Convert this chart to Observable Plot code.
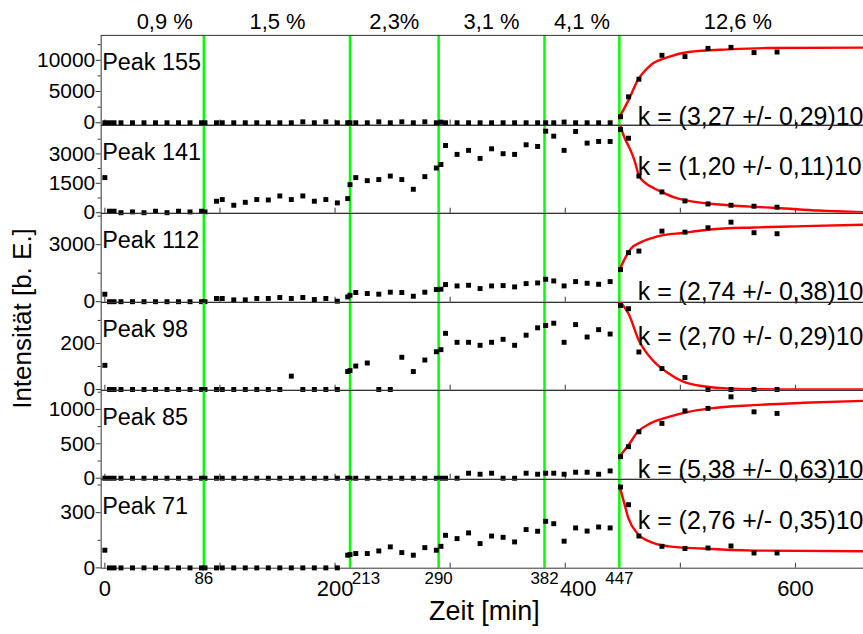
<!DOCTYPE html>
<html><head><meta charset="utf-8">
<script src="https://cdn.jsdelivr.net/npm/d3@7"></script>
<script src="https://cdn.jsdelivr.net/npm/@observablehq/plot@0.6"></script>
<style>
html,body{margin:0;padding:0;background:#fff;overflow:hidden;}
#chart{position:relative;width:863px;height:634px;overflow:hidden;background:#fff;}
#chart svg{position:absolute;left:0;}
</style></head><body><div id="chart"></div>
<script>
// ---- data ----
const times = [0,4,8,14,24,34,44,54,64,74,84,87,97,102,112,122,132,142,152,162,172,182,192,202,211,213,218,228,238,248,258,268,278,288,292,296,306,316,326,336,346,356,366,376,383,390,399,409,419,429,439,448,455,464,484,504,524,544,564,584];

const peak155 = [0,0,0,0,0,0,0,0,0,0,0,0,0,0,0,0,0,0,0,0,150,0,150,0,0,0,0,0,150,0,150,0,150,0,100,0,0,0,0,0,0,0,0,0,0,0,100,0,0,0,0,960,4150,6970,10800,10590,11910,12070,11230,11320];
const peak141 = [1790,76,76,0,40,0,76,0,76,40,76,40,585,670,380,530,670,650,855,670,855,585,670,500,720,1430,1790,1635,1690,1870,1690,1195,1840,2280,2460,3430,2975,3180,2770,3260,3010,2975,3465,3380,4160,3905,3180,4145,3550,3635,3635,4245,3800,1870,1060,600,447,380,330,280];
const peak112 = [393,0,0,0,0,0,0,0,0,0,0,0,168,168,96,96,168,168,220,168,220,114,168,26,252,340,482,430,395,500,482,287,500,640,657,900,830,865,690,830,847,778,952,987,1180,1092,830,1057,970,917,1057,1688,2580,2664,3713,3660,3890,4185,3630,3576];
const peak98 = [105,0,0,0,0,0,0,0,0,0,0,0,0,0,0,0,0,0,0,58,0,0,0,0,78,82,102,115,0,0,140,78,128,164,173,244,205,205,192,205,218,192,236,268,278,288,205,282,228,260,241,365,351,163,91,52,0,0,0,0];
const peak85 = [0,0,0,0,0,0,0,0,0,0,0,0,0,0,0,0,0,0,0,0,0,0,0,0,0,0,0,0,0,0,0,0,0,0,0,0,0,73,58,73,0,0,73,58,73,73,58,87,87,58,106,313,458,675,797,979,1015,1183,965,942];
const peak71 = [96,0,0,0,0,0,0,0,0,0,0,0,0,0,0,0,0,0,0,0,0,0,0,0,69,72,78,78,92,114,83,69,110,96,117,177,159,190,132,173,166,141,208,199,253,240,145,217,200,222,217,439,343,173,117,105,108,119,81,81];

// fitted curves
const fit155T = [447,455,463,474,490,507,542,576,659];
const fit155V = [880,3620,6810,9200,10530,11320,11750,11960,12020];
const fit141T = [447,448,451,455,460,464,470,477,484,494,504,524,544,564,584,620,659];
const fit141V = [4900,4500,3900,3400,2700,1900,1500,1250,1050,800,640,470,370,300,240,110,20];
const fit112T = [447,451,457,466,480,503,526,564,607,659];
const fit112V = [1650,2176,2790,3136,3435,3630,3800,3907,3975,4048];
const fit98T = [447,455,464,476,488,503,520,544,600,659];
const fit98V = [385,329,213,127,76,33,14,4,0,0];
const fit85T = [447,455,463,474,490,507,526,564,607,659];
const fit85V = [313,482,675,797,893,965,1015,1062,1096,1125];
const fit71T = [447,451,455,463,474,490,519,564,659];
const fit71V = [448,357,267,186,141,117,105,94,90];

const peakNames = ["Peak 155","Peak 141","Peak 112","Peak 98","Peak 85","Peak 71"];
const kLabels = [
  "k = (3,27 +/- 0,29)10⁻³ min⁻¹",
  "k = (1,20 +/- 0,11)10⁻³ min⁻¹",
  "k = (2,74 +/- 0,38)10⁻³ min⁻¹",
  "k = (2,70 +/- 0,29)10⁻³ min⁻¹",
  "k = (5,38 +/- 0,63)10⁻³ min⁻¹",
  "k = (2,76 +/- 0,35)10⁻³ min⁻¹"
];
const kX = 463;

const boundaries = [86,213,290,382,447];
const pctLabels = ["0,9 %","1,5 %","2,3%","3,1 %","4,1 %","12,6 %"];
const pctX = [52,150,251.5,336,414.5,550];
const xMajorTicks = [0,200,400,600];
const xAllTicks = [0,100,200,300,400,500,600];
const xDomain = [-3.2,659.1];

const yTicks = [[0,5000,10000],[0,1500,3000],[0,3000],[0,200],[0,500,1000],[0,300]];
const yMinor = [[2500,7500,12500],[750,2250,3750],[1500,4500],[100,300],[250,750,1250],[150,450]];
const yDomains = [[-367,13987],[-25,4449],[-26,4641],[-3,378],[-14,1275],[-1.6,480]];

// ---- layout ----
const FONT = "'Liberation Sans', Arial, sans-serif";
const values = [peak155,peak141,peak112,peak98,peak85,peak71];
const fitsT = [fit155T,fit141T,fit112T,fit98T,fit85T,fit71T];
const fitsV = [fit155V,fit141V,fit112V,fit98V,fit85V,fit71V];
const layout = [
  {top:0,   h:90, mt:35, mb:0,  kDy:72},
  {top:125, h:88, mt:0,  mb:0,  kDy:32},
  {top:213, h:89, mt:0,  mb:0,  kDy:69},
  {top:302, h:88, mt:0,  mb:0,  kDy:25},
  {top:390, h:89, mt:0,  mb:0,  kDy:70},
  {top:479, h:89, mt:0,  mb:66, kDy:32}
];
const fmt = d => String(d);
const shifted = [213, 400];   // labels nudged right in the reference to avoid overlaps

const chart = document.getElementById("chart");
layout.forEach((L, p) => {
  const pts = times.map((t,i) => [t, values[p][i]]);
  const fit = fitsT[p].map((t,i) => [t, fitsV[p][i]]);
  const marks = [
    Plot.ruleX(boundaries, {stroke: "#00ff00", strokeWidth: 2.5}),
    Plot.ruleX(xAllTicks, {insetTop: L.h - 5, stroke: "#333"}),
    Plot.frame({stroke: "#333"}),
    Plot.axisY(yTicks[p], {anchor: "left", tickSize: 5, tickPadding: 1, fontSize: 21, tickFormat: fmt, label: null, stroke: "#333"}),
    Plot.axisY(yMinor[p], {anchor: "left", tickSize: 3, tickFormat: () => "", label: null, stroke: "#333"}),
    Plot.line(fit, {stroke: "#ff0000", strokeWidth: 2.4, curve: "monotone-x", clip: true}),
    Plot.dot(pts, {symbol: "square", r: 2.8, fill: "black", stroke: "none"}),
    Plot.text([peakNames[p]], {frameAnchor: "top-left", dx: 1, dy: 18, textAnchor: "start", fontSize: 23.5, fill: "black"}),
    Plot.text([kLabels[p]], {x: [kX], frameAnchor: "top", dy: L.kDy, textAnchor: "start", fontSize: 25, fill: "black"})
  ];
  if (p === 0) {
    marks.push(Plot.text(pctLabels, {x: pctX, frameAnchor: "top", dy: -22, fontSize: 22, fill: "black"}));
  }
  if (p === 5) {
    marks.push(Plot.axisX(xMajorTicks.filter(d => !shifted.includes(d)), {anchor: "bottom", tickSize: 0, tickPadding: 12, fontSize: 22, tickFormat: fmt, label: null}));
    marks.push(Plot.axisX(xMajorTicks.filter(d => shifted.includes(d)), {anchor: "bottom", tickSize: 0, tickPadding: 12, dx: 13, fontSize: 22, tickFormat: fmt, label: null}));
    marks.push(Plot.axisX(boundaries.filter(d => !shifted.includes(d)), {anchor: "bottom", tickSize: 0, tickPadding: 4, fontSize: 17, tickFormat: fmt, label: null}));
    marks.push(Plot.axisX(boundaries.filter(d => shifted.includes(d)), {anchor: "bottom", tickSize: 0, tickPadding: 4, dx: 16, fontSize: 17, tickFormat: fmt, label: null}));
    marks.push(Plot.text(["Zeit [min]"], {frameAnchor: "bottom", dx: 2, dy: 52, fontSize: 27, fill: "black"}));
  }
  const svg = Plot.plot({
    width: 866, height: L.h + L.mt + L.mb,
    marginLeft: 101, marginRight: 0, marginTop: L.mt, marginBottom: L.mb,
    x: {domain: xDomain, ...(p === 5 ? {} : {axis: null})},
    y: {domain: yDomains[p]},
    style: {fontFamily: FONT, background: "transparent", overflow: "visible", color: "black"},
    marks
  });
  svg.style.top = L.top + "px";
  chart.appendChild(svg);
});

// y-axis title overlay
const overlay = Plot.plot({
  width: 863, height: 634, margin: 0,
  style: {fontFamily: FONT, background: "transparent", overflow: "visible", pointerEvents: "none"},
  marks: [Plot.text(["Intensität [b. E.]"], {frameAnchor: "left", textAnchor: "middle", dx: 22, dy: 1, rotate: -90, fontSize: 26, fill: "black"})]
});
overlay.style.top = "0px";
chart.appendChild(overlay);
</script>
</body></html>
